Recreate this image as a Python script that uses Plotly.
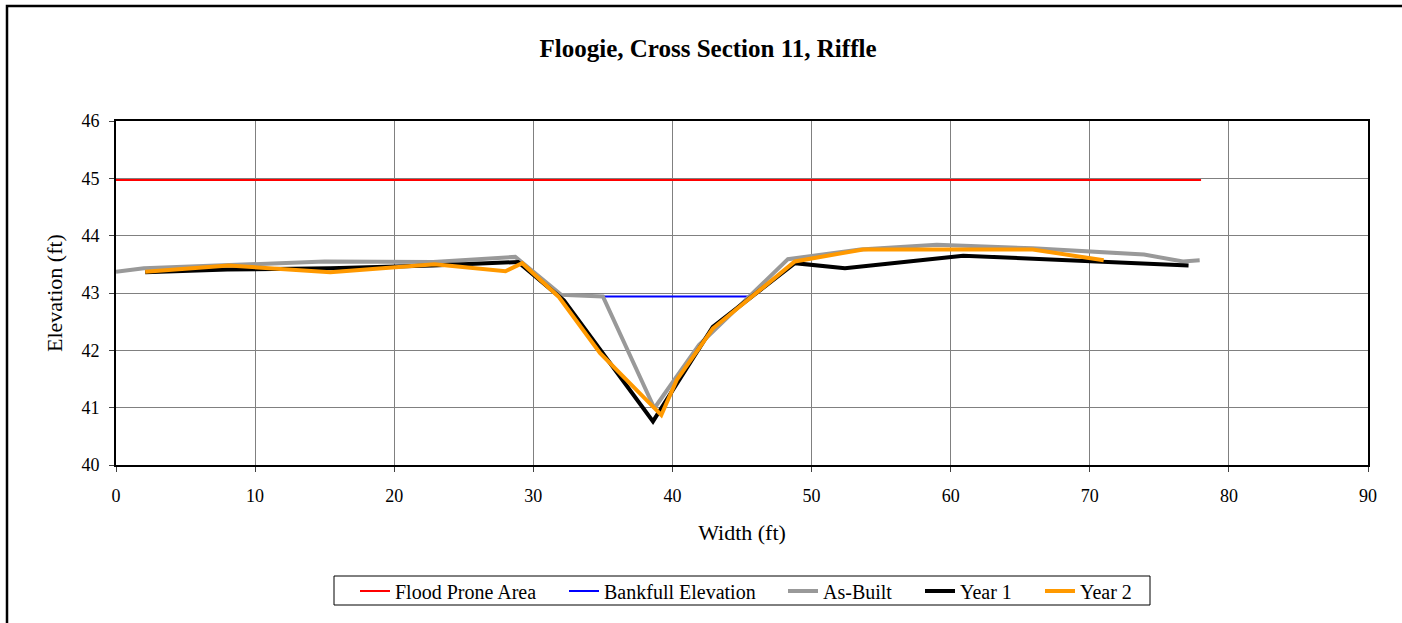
import plotly.graph_objects as go

# ---- data ----
flood_x = [0, 78]
flood_y = [44.97, 44.97]

bankfull_x = [35.0, 45.5]
bankfull_y = [42.94, 42.94]

asbuilt_x = [0, 2.0, 15.0, 22.8, 28.7, 32.0, 35.0, 38.7, 41.9, 48.3, 53.5, 59.0, 65.9, 73.9, 76.7, 77.9]
asbuilt_y = [43.37, 43.43, 43.55, 43.54, 43.63, 42.97, 42.94, 40.99, 42.09, 43.59, 43.76, 43.84, 43.78, 43.67, 43.55, 43.57]

year1_x = [2.1, 8.0, 15.4, 22.8, 28.9, 32.2, 38.6, 42.9, 48.8, 52.4, 60.9, 77.1]
year1_y = [43.36, 43.41, 43.43, 43.48, 43.54, 42.87, 40.76, 42.41, 43.52, 43.43, 43.65, 43.48]

year2_x = [2.1, 8.1, 15.4, 22.9, 28.0, 29.2, 31.8, 34.8, 39.2, 40.3, 42.9, 48.8, 53.7, 65.9, 71.0]
year2_y = [43.37, 43.48, 43.36, 43.50, 43.38, 43.52, 42.94, 41.95, 40.87, 41.48, 42.38, 43.55, 43.76, 43.76, 43.57]

series_names = ["Flood Prone Area", "Bankfull Elevation", "As-Built", "Year 1", "Year 2"]
series_colors = ["#ff0000", "#0000ff", "#999999", "#000000", "#ff9900"]
series_widths = [2, 2, 4, 4, 4]

x_ticks = [0, 10, 20, 30, 40, 50, 60, 70, 80, 90]
y_ticks = [40, 41, 42, 43, 44, 45, 46]

FONT = "Liberation Serif, Times New Roman, serif"

L, R, T, B = 116, 1368, 121, 465
W, H = 1402, 623
pw, ph = R - L, B - T

# legend entry text start positions (page px) in the reference
legend_text_px = [398, 607, 826, 963, 1083]
legend_names = ["legend", "legend2", "legend3", "legend4", "legend5"]

xs = [flood_x, bankfull_x, asbuilt_x, year1_x, year2_x]
ys = [flood_y, bankfull_y, asbuilt_y, year1_y, year2_y]

fig = go.Figure()
for i in range(5):
    fig.add_trace(go.Scatter(x=xs[i], y=ys[i], mode="lines", name=series_names[i],
                             legend=legend_names[i],
                             line=dict(color=series_colors[i], width=series_widths[i])))

layout_legends = {}
for i, ln in enumerate(legend_names):
    layout_legends[ln] = dict(
        x=(legend_text_px[i] - 43 - L) / pw, xanchor="left",
        y=(B - 591) / ph, yanchor="middle",
        bgcolor="rgba(0,0,0,0)", borderwidth=0,
        font=dict(family=FONT, size=20, color="black"),
        orientation="h", itemwidth=30)

fig.update_layout(
    width=W, height=H,
    margin=dict(l=L, r=W - R, t=T, b=H - B),
    paper_bgcolor="white", plot_bgcolor="white",
    font=dict(family=FONT, size=18, color="black"),
    title=dict(text="<b>Floogie, Cross Section 11, Riffle</b>", x=708 / W, xref="container",
               xanchor="center", y=1 - 48 / H, yref="container", yanchor="middle",
               font=dict(family=FONT, size=25, color="black")),
    showlegend=True,
    xaxis=dict(range=[0, 90], tickvals=x_ticks, ticktext=[str(v) for v in x_ticks],
               showgrid=True, gridcolor="#808080", gridwidth=1,
               showline=True, linecolor="black", linewidth=2, mirror=True,
               ticks="outside", ticklen=5, tickcolor="#404040", ticklabelstandoff=8,
               zeroline=False,
               title=dict(text="Width (ft)", standoff=20, font=dict(family=FONT, size=22))),
    yaxis=dict(range=[40, 46], tickvals=y_ticks, ticktext=[str(v) for v in y_ticks],
               showgrid=True, gridcolor="#808080", gridwidth=1,
               showline=True, linecolor="black", linewidth=2, mirror=True,
               ticks="outside", ticklen=5, tickcolor="#404040", ticklabelstandoff=6,
               zeroline=False,
               title=dict(text="Elevation (ft)", standoff=13, font=dict(family=FONT, size=22))),
    **layout_legends,
)

# legend frame
fig.add_shape(type="rect", xref="paper", yref="paper",
              x0=(334 - L) / pw, x1=(1150 - L) / pw,
              y0=(B - 605) / ph, y1=(B - 576) / ph,
              line=dict(color="black", width=1), fillcolor="rgba(0,0,0,0)", layer="above")

# outer chart border (Excel chart area)
fig.add_shape(type="rect", xref="paper", yref="paper",
              x0=(7 - L) / pw, x1=(1420 - L) / pw,
              y0=(B - 640) / ph, y1=(B - 6) / ph,
              line=dict(color="black", width=2.5), fillcolor="rgba(0,0,0,0)", layer="above")

fig.write_html("out.html", config={"displayModeBar": False},
               post_script="document.body.style.margin='0';document.body.style.overflow='hidden';")
